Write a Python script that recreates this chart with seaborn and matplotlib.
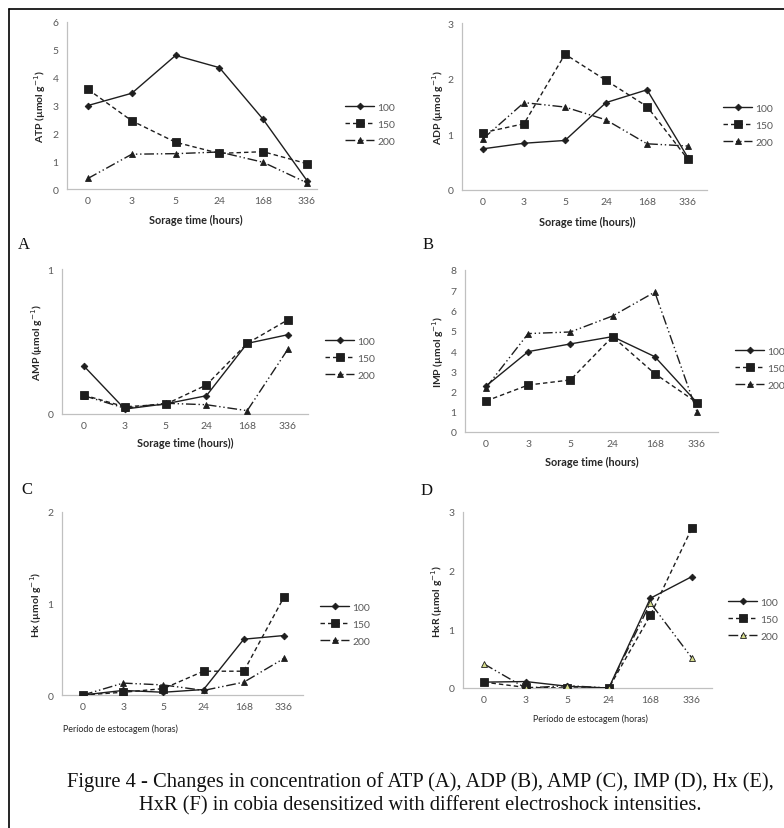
import numpy as np
import pandas as pd
import matplotlib
matplotlib.use("Agg")
import matplotlib.pyplot as plt
import seaborn as sns
from matplotlib.lines import Line2D

# ---------------- data ----------------
times = ["0", "3", "5", "24", "168", "336"]
intensities = ["100", "150", "200"]

atp_100 = [3.00, 3.44, 4.80, 4.36, 2.50, 0.30]
atp_150 = [3.58, 2.45, 1.68, 1.28, 1.34, 0.91]
atp_200 = [0.38, 1.25, 1.27, 1.33, 0.96, 0.22]

adp_100 = [0.74, 0.84, 0.89, 1.57, 1.80, 0.58]
adp_150 = [1.03, 1.19, 2.44, 1.97, 1.50, 0.55]
adp_200 = [0.92, 1.57, 1.49, 1.26, 0.83, 0.79]

amp_100 = [0.33, 0.034, 0.07, 0.126, 0.487, 0.547]
amp_150 = [0.13, 0.05, 0.067, 0.20, 0.487, 0.65]
amp_200 = [0.126, 0.04, 0.074, 0.064, 0.023, 0.448]

imp_100 = [2.27, 3.97, 4.35, 4.71, 3.72, 1.45]
imp_150 = [1.53, 2.32, 2.57, 4.71, 2.88, 1.45]
imp_200 = [2.19, 4.86, 4.94, 5.73, 6.91, 0.99]

hx_100 = [0.00, 0.05, 0.03, 0.06, 0.61, 0.65]
hx_150 = [0.00, 0.03, 0.07, 0.26, 0.26, 1.07]
hx_200 = [0.00, 0.13, 0.11, 0.05, 0.14, 0.40]

hxr_100 = [0.10, 0.11, 0.03, 0.00, 1.53, 1.90]
hxr_150 = [0.10, 0.01, 0.00, 0.00, 1.24, 2.73]
hxr_200 = [0.41, 0.00, 0.04, 0.00, 1.45, 0.51]

ylabels = ["ATP", "ADP", "AMP", "IMP", "Hx", "HxR"]
xlabels = ["Sorage time (hours)", "Sorage time (hours))", "Sorage time (hours))",
           "Sorage time (hours)", "Período de estocagem (horas)",
           "Período de estocagem (horas)"]
letters = ["A", "B", "C", "D"]
caption_1 = "Figure 4 - Changes in concentration of ATP (A), ADP (B), AMP (C), IMP (D), Hx (E),"
caption_2 = "HxR (F) in cobia desensitized with different electroshock intensities."

series = [
    [atp_100, atp_150, atp_200],
    [adp_100, adp_150, adp_200],
    [amp_100, amp_150, amp_200],
    [imp_100, imp_150, imp_200],
    [hx_100, hx_150, hx_200],
    [hxr_100, hxr_150, hxr_200],
]
ymax = [6, 3, 1, 8, 2, 3]

# ---------------- layout (pixels) ----------------
W, H = 784, 829
# left, right, top, bottom, x-pos of first category, x-pos of last category
boxes = [
    (67, 317, 23, 190, 88, 307),
    (462, 707, 24, 191, 483, 688),
    (62, 308, 270, 415, 84, 288),
    (465, 718, 271, 433, 486, 697),
    (62, 303, 513, 696, 83, 284),
    (463, 712, 513, 689, 484, 692),
]
ylab_x = [48, 446, 45, 446, 44, 445]
xlab_pos = [(196, 215), (587, 217), (185, 438), (592, 457), (120, 724), (590, 714)]
leg_pos = [(345, 125), (723, 126), (325, 359), (735, 369), (320, 625), (728, 620)]
letter_pos = [(24, 245), (428, 245), (27, 490), (427, 491)]

sns.set_theme(style="white")
plt.rcParams["font.family"] = ["Lato", "DejaVu Sans"]
plt.rcParams["mathtext.fontset"] = "dejavusans"

fig = plt.figure(figsize=(W / 100, H / 100), dpi=100)
fig.patch.set_facecolor("white")

LC = "#1e1e1e"
styles = [
    dict(linestyle="-", marker="D", markersize=3.4, markerfacecolor=LC),
    dict(linestyle=(0, (3.2, 2.2)), marker="s", markersize=5.4, markerfacecolor=LC),
    dict(linestyle=(0, (7, 2, 1, 2, 1, 2)), marker="^", markersize=4.8, markerfacecolor=LC),
]
tick_col = "#595959"
axis_col = "#c0c0c0"

pos = np.arange(len(times))
for i in range(6):
    l, r, t, b, x0, x5 = boxes[i]
    ax = fig.add_axes([l / W, 1 - b / H, (r - l) / W, (b - t) / H])
    sp = (x5 - x0) / 5.0
    ax.set_xlim((l - x0) / sp, (r - x0) / sp)
    ax.set_ylim(0, ymax[i])
    for j, name in enumerate(intensities):
        st = dict(styles[j])
        if i == 5 and j == 2:
            st["markerfacecolor"] = "#d6dc8c"
        df = pd.DataFrame({"pos": pos, "val": series[i][j]})
        sns.lineplot(data=df, x="pos", y="val", ax=ax, color=LC, linewidth=1.0,
                     markeredgecolor=LC, markeredgewidth=0.6, sort=False,
                     legend=False, zorder=3, **st)
    ax.set_xticks(pos)
    ax.set_xticklabels(times)
    ax.set_yticks(np.arange(0, ymax[i] + 1, 1))
    ax.tick_params(axis="both", labelsize=7.5, colors=tick_col, pad=3)
    ax.tick_params(axis="x", length=0, pad=5)
    ax.tick_params(axis="y", length=3, width=0.8, color=axis_col, direction="out", pad=3)
    for s in ["top", "right"]:
        ax.spines[s].set_visible(False)
    for s in ["left", "bottom"]:
        ax.spines[s].set_color(axis_col)
        ax.spines[s].set_linewidth(0.9)
    ax.set_facecolor("none")
    ax.set_ylabel(ylabels[i] + r" (µmol g$^{-1}$)", fontsize=7.5, fontweight="bold",
                  color="#262626")
    ax.yaxis.set_label_coords((ylab_x[i] - l) / (r - l), 0.5)
    ax.set_xlabel(xlabels[i], fontsize=7.8 if i < 4 else 6.4,
                  fontweight="bold" if i < 4 else "normal", color="#262626")
    xl, yl = xlab_pos[i]
    ax.xaxis.set_label_coords((xl - l) / (r - l), (b - yl) / (b - t))

    handles = []
    for j in range(3):
        st = dict(styles[j])
        if i == 5 and j == 2:
            st["markerfacecolor"] = "#d6dc8c"
        handles.append(Line2D([], [], color=LC, linewidth=1.0, markeredgecolor=LC,
                              markeredgewidth=0.6, **st))
    lx, ly = leg_pos[i]
    leg = ax.legend(handles, intensities, loc="center left",
                    bbox_to_anchor=(lx / W, 1 - ly / H), bbox_transform=fig.transFigure,
                    frameon=False, fontsize=7.5, handlelength=2.8, handletextpad=0.3,
                    labelspacing=0.75, borderpad=0, borderaxespad=0)
    for txt in leg.get_texts():
        txt.set_color(tick_col)

for k, lt in enumerate(letters):
    x, y = letter_pos[k]
    fig.text(x / W, 1 - y / H, lt, fontsize=12, family="Liberation Serif",
             ha="center", va="center", color="#111111")

fig.text(420 / W, 1 - 782 / H, caption_1, fontsize=14.8, family="Liberation Serif",
         ha="center", va="center", color="#111111")
fig.text(420 / W, 1 - 806 / H, caption_2, fontsize=14.8, family="Liberation Serif",
         ha="center", va="center", color="#111111")

# outer border (top and left edges)
fig.add_artist(Line2D([9 / W, 1.0], [1 - 10 / H, 1 - 10 / H], color="black", linewidth=1.2,
                      transform=fig.transFigure))
fig.add_artist(Line2D([9 / W, 9 / W], [1 - 10 / H, 0.0], color="black", linewidth=1.2,
                      transform=fig.transFigure))

fig.savefig("out.png", dpi=100, facecolor="white")
